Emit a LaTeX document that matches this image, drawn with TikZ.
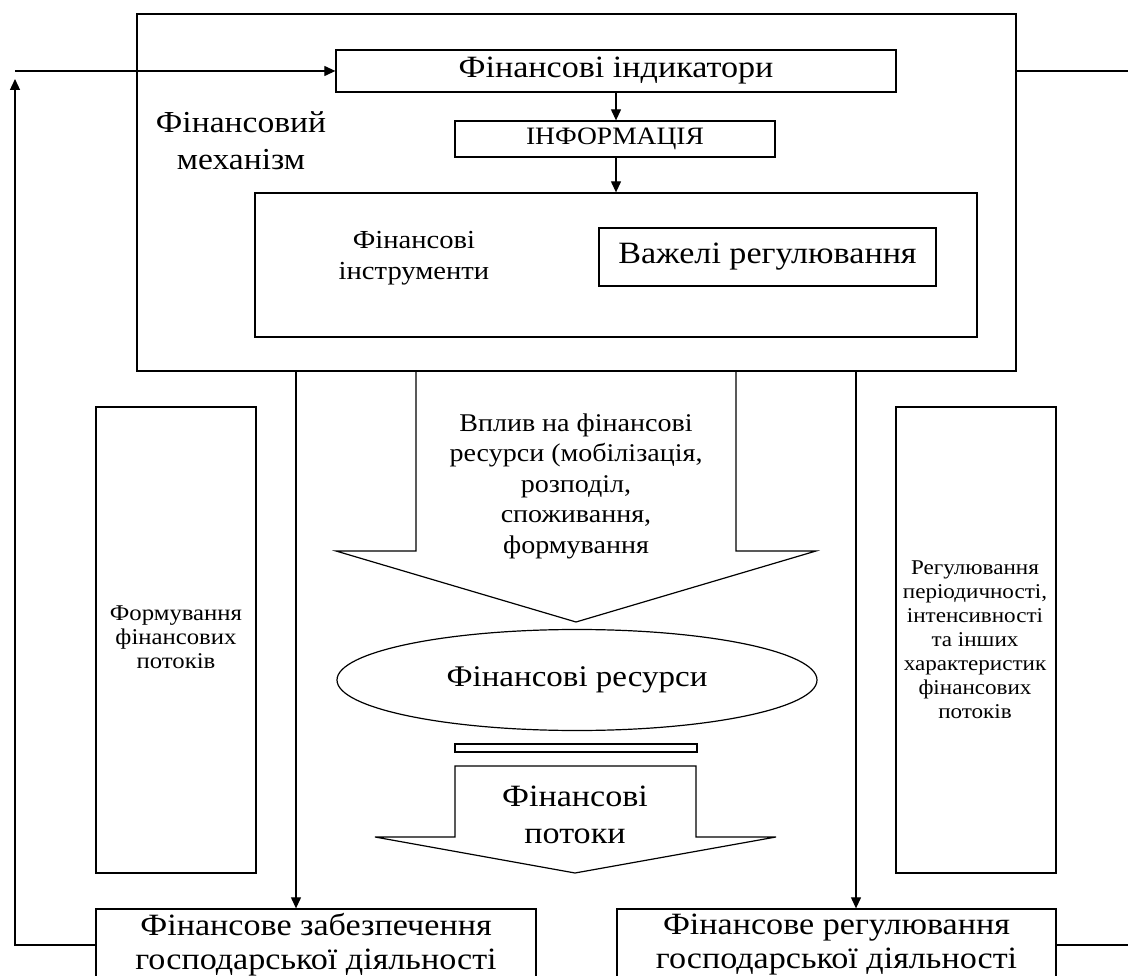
\documentclass[tikz,border=0pt]{standalone}
\usepackage{fontspec}
\setmainfont[FakeStretch=1.1]{Liberation Serif}
\usetikzlibrary{shapes.geometric,arrows.meta}
\newcommand{\fsz}[2]{\fontsize{#1}{#2}\selectfont}
\begin{document}
\begin{tikzpicture}[x=1pt,y=-1pt,
  box/.style={draw, line width=1.3pt, rectangle, inner sep=0pt, fill=white},
  lbl/.style={align=center, inner sep=0pt},
  arr/.style={line width=1.2pt, -{Triangle[length=11pt,width=10pt]}},
  thin/.style={line width=1.1pt},
  blockarrow/.style={draw, line width=1.2pt, line join=miter}]
\clip (0,0) rectangle (1128,976);
\fill[white] (0,0) rectangle (1128,976);
% outer mechanism box
\node[box, minimum width=879pt, minimum height=357pt] (mech) at (576.5,192.5) {};
\node[lbl, font=\fsz{30.5}{37}] (mechlbl) at (241,141) {Фінансовий\\механізм};
% indicators
\node[box, minimum width=560pt, minimum height=42pt, font=\fsz{31}{34}] (ind) at (616,71) {Фінансові індикатори};
\node[box, minimum width=320pt, minimum height=36pt, font=\fsz{25}{28}] (info) at (615,139) {ІНФОРМАЦІЯ};
% instruments
\node[box, minimum width=722pt, minimum height=144pt] (instr) at (616,265) {};
\node[lbl, font=\fsz{26}{31}] (instrlbl) at (414,258) {Фінансові\\інструменти};
\node[box, minimum width=337pt, minimum height=58pt, font=\fsz{31}{34}] (lev) at (767.5,257) {Важелі регулювання};
\draw[arr] (ind.south) -- (ind.south |- info.north);
\draw[arr] (info.south -| ind.south) -- (ind.south |- instr.north);
% side boxes
\node[box, minimum width=160pt, minimum height=466pt] (form) at (176,640) {};
\node[lbl, font=\fsz{22.5}{24}] (formlbl) at (176,637) {Формування\\фінансових\\потоків};
\node[box, minimum width=160pt, minimum height=466pt] (regp) at (976,640) {};
\node[lbl, font=\fsz{21}{24}] (regplbl) at (975,640) {Регулювання\\періодичності,\\інтенсивності\\та інших\\характеристик\\фінансових\\потоків};
% bottom boxes
\node[box, minimum width=440pt, minimum height=72pt, font=\fsz{31}{34}, align=center] (zab) at (316,945) {Фінансове забезпечення\\господарської діяльності};
\node[box, minimum width=439pt, minimum height=72pt, font=\fsz{31}{34}, align=center] (reg) at (836.5,945) {Фінансове регулювання\\господарської діяльності};
% big block arrow 1
\coordinate (b1a) at (416,371);
\coordinate (b1b) at (736,371);
\draw[blockarrow] (b1a) -- (416,551) -- (336,551) -- (576,622) -- (816,551) -- (736,551) -- (b1b);
\node[lbl, font=\fsz{25.5}{30.5}] (vplyv) at (576,486) {Вплив на фінансові\\ресурси (мобілізація,\\розподіл,\\споживання,\\формування};
% ellipse
\node[draw, ellipse, line width=1.2pt, minimum width=480pt, minimum height=101pt, inner sep=0pt, font=\fsz{30}{32}] (res) at (577,680) {Фінансові ресурси};
% bar
\node[box, line width=1.1pt, minimum width=242pt, minimum height=8pt] (bar) at (576,748) {};
% block arrow 2
\draw[blockarrow] (455,766) -- (455,837) -- (375,837) -- (575,873) -- (776,837) -- (696,837) -- (696,766) -- cycle;
\node[lbl, font=\fsz{31}{37}] (flows) at (575,815) {Фінансові\\потоки};
% down arrows
\coordinate (dl) at (296,371);
\coordinate (dr) at (856,371);
\draw[thin, -{Triangle[length=11pt,width=10pt]}] (dl) -- (dl |- zab.north);
\draw[thin, -{Triangle[length=11pt,width=10pt]}] (dr) -- (dr |- reg.north);
% feedback loop
\coordinate (fbl) at (96,945);
\coordinate (fbtop) at (15,79);
\coordinate (fbc) at (15,71);
\draw[arr] (fbl) -| (fbtop);
\draw[arr] (fbc) -- (ind.west);
\coordinate (rt) at (1016,71);
\coordinate (rte) at (1130,71);
\draw[thin] (rt) -- (rte);
\coordinate (rb) at (1056,945);
\coordinate (rbe) at (1130,945);
\draw[thin] (rb) -- (rbe);
\end{tikzpicture}
\end{document}
